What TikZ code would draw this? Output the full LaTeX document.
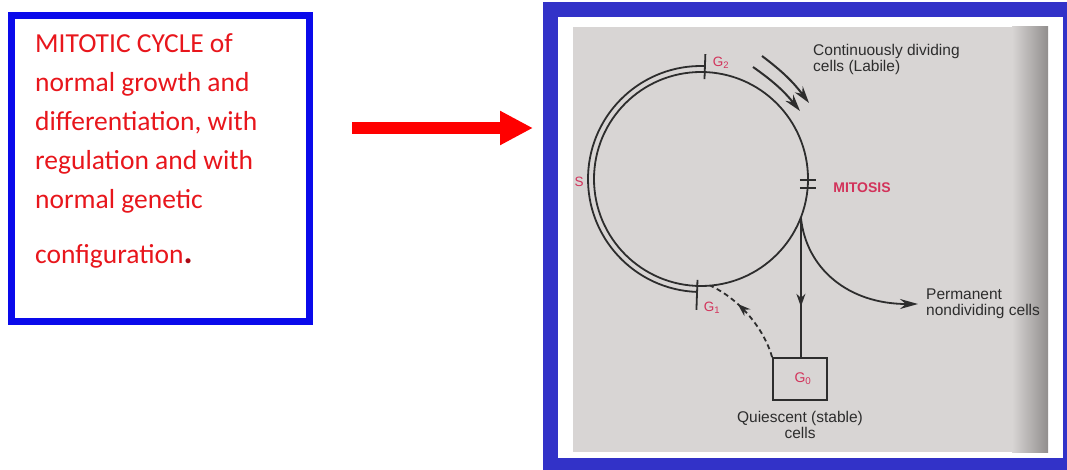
\documentclass[tikz,border=0pt]{standalone}
\usepackage{fontspec}
\setmainfont{Carlito}
\newfontfamily\figfont{Liberation Sans}
\usetikzlibrary{arrows.meta, positioning, calc, decorations.markings}
\definecolor{boxblue}{RGB}{10,10,235}
\definecolor{photoblue}{RGB}{50,50,200}
\definecolor{notered}{RGB}{232,22,28}
\definecolor{dotred}{RGB}{170,10,20}
\definecolor{pagegray}{RGB}{216,213,212}
\definecolor{pageshade}{RGB}{145,142,141}
\definecolor{ink}{RGB}{45,45,45}
\definecolor{phase}{RGB}{210,50,90}
\tikzstyle{notebox} = [rectangle, draw=boxblue, line width=7pt, fill=white, minimum width=298pt, minimum height=306pt]
\tikzstyle{photoframe} = [rectangle, draw=photoblue, line width=15pt, fill=white, minimum width=520pt, minimum height=456pt]
\tikzstyle{notetext} = [text=notered, align=left, inner sep=0pt, font=\fontsize{27.5}{39}\selectfont]
\tikzstyle{figtext} = [text=ink, inner sep=0pt, font=\figfont\fontsize{15.5}{16}\selectfont]
\tikzstyle{phaselbl} = [text=phase, inner sep=0pt, font=\figfont\fontsize{13.5}{13.5}\selectfont]
\tikzstyle{stage} = [rectangle, draw=ink, line width=1.8pt, minimum width=54pt, minimum height=42pt, text=phase, font=\figfont\fontsize{14}{14}\selectfont]
\tikzstyle{track} = [draw=ink, line width=1.8pt]
\tikzstyle{arrow} = [draw=ink, line width=1.8pt, -{Stealth[length=18pt,width=10pt]}]
\tikzstyle{flowarrow} = [draw=ink, line width=2pt, -{Stealth[length=17pt,width=10pt]}]
\tikzstyle{dasharrow} = [draw=ink, line width=1.8pt, dash pattern=on 5pt off 3.5pt]
\tikzstyle{bigarrow} = [draw=red, line width=12pt, -{Triangle[length=33pt,width=32pt]}]

\begin{document}
\begin{tikzpicture}[x=1pt, y=1pt]
  \useasboundingbox[fill=white] (0,0) rectangle (1067,-470);

  % Left note
  \node[notebox] (notebox) at (160.5,-168.5) {};
  \node[notetext, anchor=north west, below right=21.5pt and 27pt of notebox.north west] (note)
    {MITOTIC CYCLE of\\normal growth and\\differentiation, with\\regulation and with\\normal genetic\\[16pt]configuration{\color{dotred}\fontsize{34}{34}\selectfont\bfseries .}};

  % Red pointer
  \coordinate (bigtail) at (352,-128);
  \coordinate (bighead) at (533,-128);
  \draw[bigarrow] (bigtail) -- (bighead);

  % Photo of the textbook figure
  \node[photoframe] (photo) at (810.5,-237.5) {};
  \fill[pagegray] (573,-27) rectangle (1048,-452);
  \shade[left color=pagegray, right color=pageshade] (1012,-27) rectangle (1048,-452);

  % Cell cycle
  \coordinate (C) at (701,-179);
  \draw[track] (C) circle[radius=107pt];
  \draw[track] ($(C)+(88:113)$) arc[start angle=88, end angle=268, radius=113pt];
  \draw[track] ($(C)+(88:100)$) -- ($(C)+(88:125)$);
  \draw[track] ($(C)+(268:101)$) -- ($(C)+(268:131)$);
  \coordinate (mit) at ($(C)+(-2:107)$);
  \draw[track] ($(mit)+(-8,3)$) -- ($(mit)+(8,3)$);
  \draw[track] ($(mit)+(-8,-5)$) -- ($(mit)+(8,-5)$);
  \coordinate (split) at ($(C)+(-21:107)$);
  \coordinate (g1pt) at ($(C)+(275:107)$);

  % Labels
  \node[phaselbl] (g2) at (721,-63) {G\textsubscript{2}};
  \node[phaselbl] (g1) at (712,-308) {G\textsubscript{1}};
  \node[phaselbl] (s) at (579,-182) {S};
  \node[phaselbl, font=\figfont\bfseries\fontsize{14}{14}\selectfont] (mitosis) at (862,-188) {MITOSIS};
  \node[stage] (g0) at (800,-379) {\raisebox{-4pt}{\hspace{6pt}G\textsubscript{0}}};
  \node[figtext, align=center, below=10pt of g0] (quiescent) {Quiescent (stable)\\cells};
  \node[figtext, align=left, anchor=west] (perm) at (926,-304) {Permanent\\nondividing cells};
  \node[figtext, align=left, anchor=north west] (labile) at (813,-44) {Continuously dividing\\cells (Labile)};

  % Flows
  \coordinate (lab1s) at (762,-56);
  \coordinate (lab1e) at (809,-103);
  \coordinate (lab2s) at (753,-67);
  \coordinate (lab2e) at (800,-111);
  \draw[flowarrow] (lab1s) to[bend left=8] (lab1e);
  \draw[flowarrow] (lab2s) to[bend left=8] (lab2e);
  \draw[track, decoration={markings, mark=at position 0.64 with {\arrow{Stealth[length=13pt,width=9pt]}}}, postaction={decorate}] (split) -- (split |- g0.north);
  \draw[arrow, shorten >=8pt] (split) .. controls +(5,-51) and +(-78,0) .. (perm.west);
  \draw[dasharrow, decoration={markings, mark=at position 0.66 with {\arrow{Stealth[length=13pt,width=9pt]}}}, postaction={decorate}] (g0.north west) .. controls +(-8,28) and +(30,-14) .. (g1pt);
\end{tikzpicture}
\end{document}
